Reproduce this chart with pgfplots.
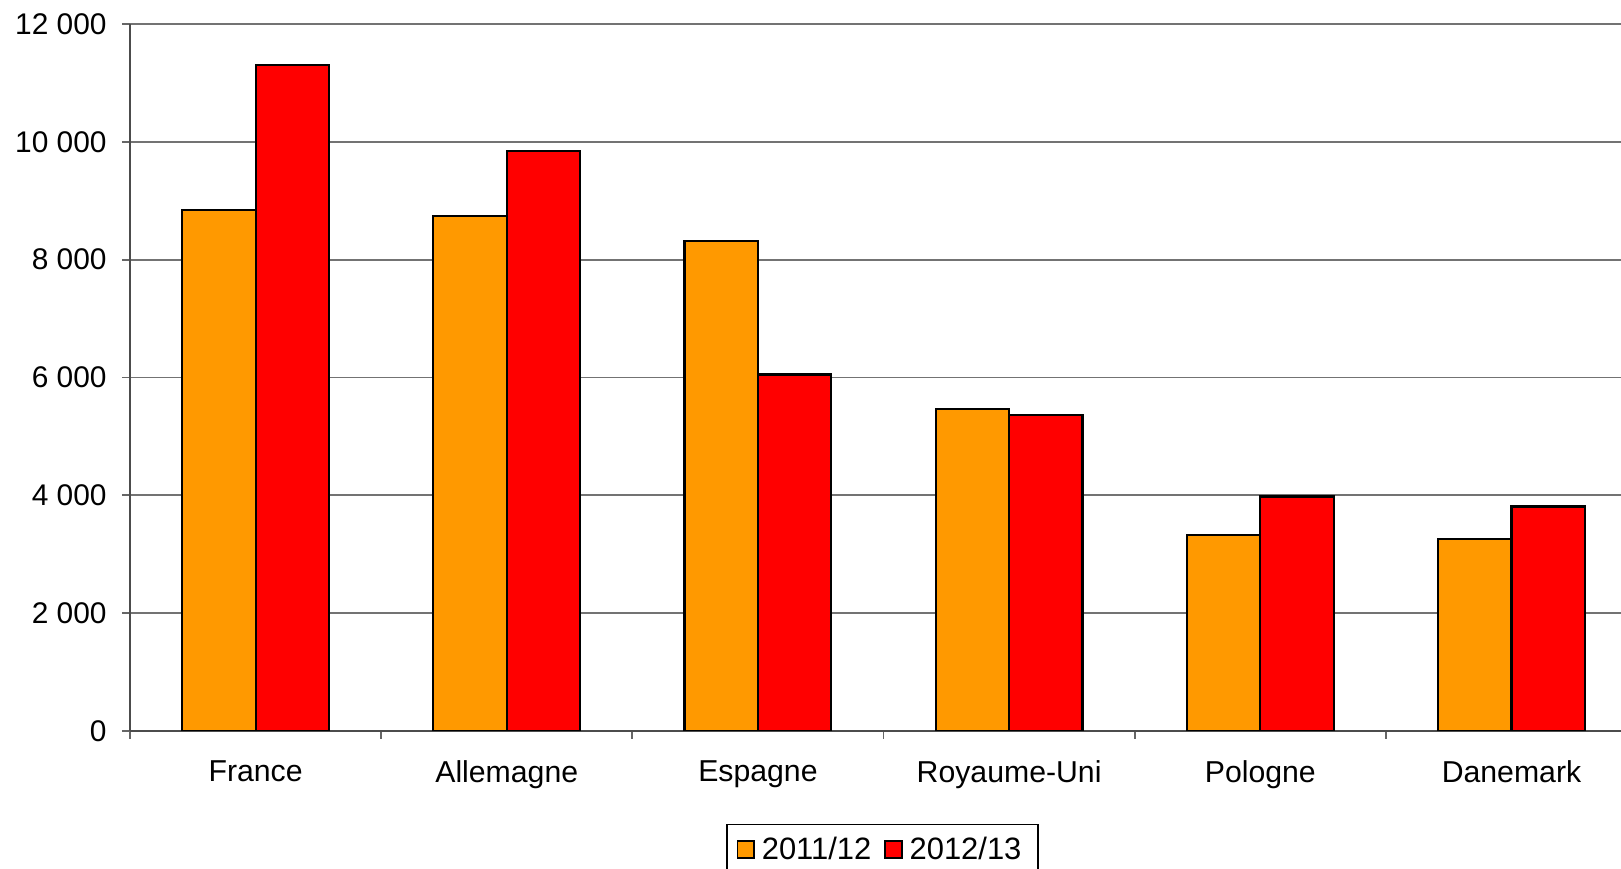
\documentclass[border=0pt]{standalone}
\usepackage{pgfplots}
\pgfplotsset{compat=1.18}
\usepackage{fontspec}
\setmainfont{Liberation Sans}
\definecolor{orangebar}{HTML}{FF9900}
\definecolor{redbar}{HTML}{FF0000}
\begin{document}
\begin{tikzpicture}
  \begin{axis}[
      at={(1.30cm,1.38cm)}, anchor=south west,
      scale only axis,
      width=14.91cm, height=7.07cm,
      ymin=0, ymax=12000,
      xmin=-0.5, xmax=5.436,
      axis lines=left,
      axis line style={-, draw=black!70, line width=0.6pt},
      ytick={0,2000,...,12000},
      scaled y ticks=false,
      xtick={0,...,5},
      xticklabels={France, Allemagne, Espagne, Royaume-Uni, Pologne, Danemark},
      minor xtick={-0.5,0.5,...,5.5},
      major x tick style={draw=none},
      minor tick length=0.8mm,
      major tick length=0.8mm,
      tick align=outside,
      tick style={draw=black!60, line width=0.5pt},
      ymajorgrids,
      grid style={draw=black!55, line width=0.5pt},
      yticklabel style={font=\fontsize{8.5}{10}\selectfont, xshift=-0.3mm},
      xticklabel style={font=\fontsize{8.6}{10}\selectfont, yshift=-0.9mm},
      /pgf/number format/.cd, fixed, 1000 sep={\ }, assume math mode=true,
      /pgfplots/.cd,
      ybar, bar width=0.734cm,
      legend columns=2,
      legend style={at={(0.5047,-0.131)}, anchor=north,
        draw=black, line width=0.5pt,
        font=\fontsize{8.8}{10}\selectfont,
        inner xsep=2.7pt, inner ysep=1.5pt,
        nodes={inner xsep=2pt},
        /tikz/every even column/.append style={column sep=0.6mm}},
      legend image code/.code={
        \draw[#1, draw=black, line width=0.5pt] (0cm,-0.07cm) rectangle (0.165cm,0.095cm);},
    ]
    \addplot[fill=orangebar, draw=black, line width=0.6pt, bar shift=-0.367cm]
      coordinates {(0,8840) (1,8740) (2,8320) (3,5470) (4,3330) (5,3260)};
    \addplot[fill=redbar, draw=black, line width=0.6pt, bar shift=0.367cm]
      coordinates {(0,11300) (1,9840) (2,6050) (3,5370) (4,3980) (5,3810)};
    \legend{2011/12, 2012/13}
  \end{axis}
  \pgfresetboundingbox
  \useasboundingbox (0,0) rectangle (16.21cm,8.69cm);
\end{tikzpicture}
\end{document}
